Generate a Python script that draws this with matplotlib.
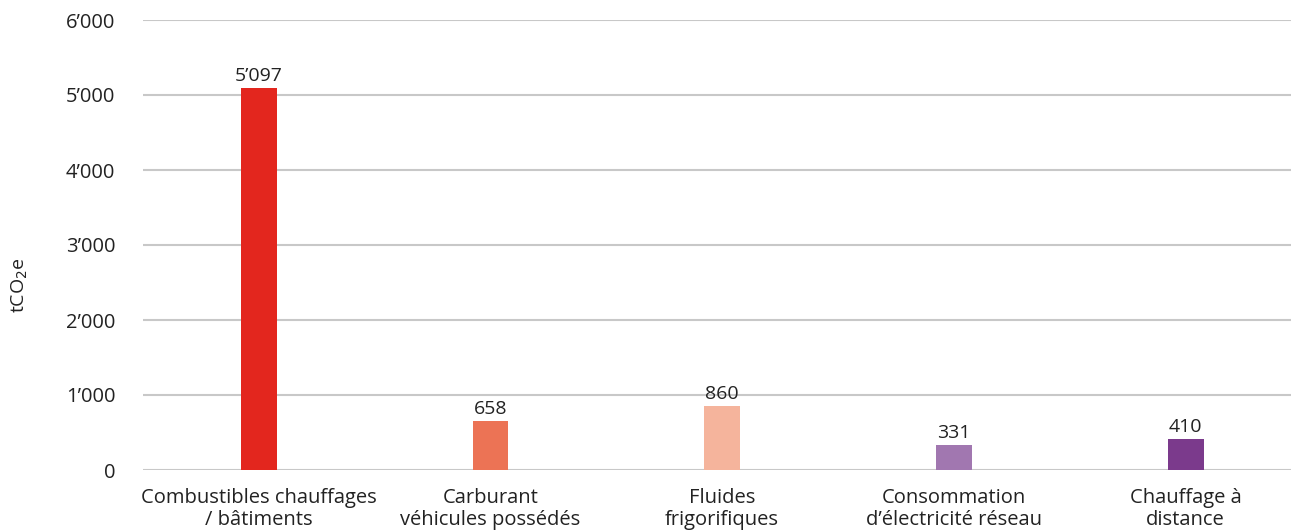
import matplotlib
matplotlib.use('Agg')
import matplotlib.pyplot as plt

categories = ["Combustibles chauffages\n/ bâtiments",
              "Carburant\nvéhicules possédés",
              "Fluides\nfrigorifiques",
              "Consommation\nd’électricité réseau",
              "Chauffage à\ndistance"]
values = [5097, 658, 860, 331, 410]
value_labels = ["5’097", "658", "860", "331", "410"]
colors = ["#E3261E", "#EC7355", "#F5B49C", "#A177B0", "#7B3A8C"]
y_ticks = [0, 1000, 2000, 3000, 4000, 5000, 6000]
y_tick_labels = ["0", "1’000", "2’000", "3’000", "4’000", "5’000", "6’000"]

plt.rcParams['font.family'] = ['Open Sans', 'DejaVu Sans']

fig = plt.figure(figsize=(12.91, 5.30), dpi=100)
ax = fig.add_axes([143 / 1291, 60 / 530, 1 - 143 / 1291, 450 / 530])

x = list(range(len(categories)))
bars = ax.bar(x, values, width=0.155, color=colors, zorder=3)

# value labels above bars
for xi, v, lab in zip(x, values, value_labels):
    ax.annotate(lab, (xi, v), xytext=(0, 2), textcoords='offset points',
                ha='center', va='bottom', fontsize=14, color='#222222')

ax.set_xlim(-0.5, 4.455)
ax.set_ylim(0, 6000)
ax.set_yticks(y_ticks)
ax.set_yticklabels(y_tick_labels, fontsize=14.5, color='#222222')
ax.set_xticks(x)
ax.set_xticklabels(categories, fontsize=14.5, color='#222222', linespacing=1.12)
ax.tick_params(axis='both', length=0)
ax.tick_params(axis='y', pad=20)
ax.tick_params(axis='x', pad=13)

ax.grid(axis='y', color='#C8C8C8', linewidth=1.5, zorder=0)
for s in ax.spines.values():
    s.set_visible(False)

fig.text(20 / 1291, 245 / 530, 'tCO$_2$e', rotation=90, ha='center', va='center',
         fontsize=14, color='#222222')

fig.savefig('out.png', dpi=100)
